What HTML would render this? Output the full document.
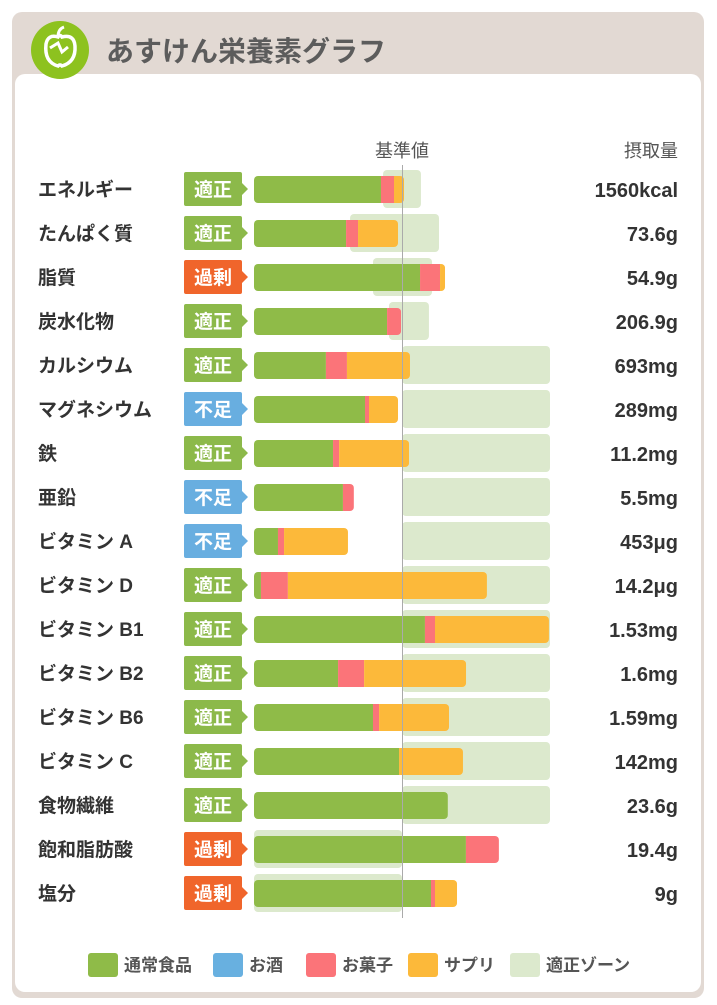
<!DOCTYPE html>
<html><head><meta charset="utf-8">
<style>
body{margin:0;width:717px;height:1000px;background:#fff;overflow:hidden;font-family:"Liberation Sans","Noto Sans CJK JP",sans-serif;}
svg text{font-family:"Liberation Sans","Noto Sans CJK JP",sans-serif;}
</style></head>
<body>
<svg id="chart" width="717" height="1000" viewBox="0 0 717 1000">
  <rect x="12" y="12" width="692" height="986" rx="10" fill="#e2d9d3"/>
  <rect x="15" y="74" width="686" height="918" rx="10" fill="#ffffff"/>
  <g>
    <circle cx="60" cy="50" r="29" fill="#8dc21f"/>
    <path d="M46 44 Q48 34 58 37 Q60 34 62 37 Q74 34 75 46 Q76 62 62 66 Q60 64 58 66 Q44 62 46 44 Z" fill="none" stroke="#fff" stroke-width="3.5"/>
    <path d="M58 37 Q58 29 64 27" fill="none" stroke="#fff" stroke-width="3"/>
    <path d="M50 48 L58 43 L62 52 L68 47" fill="none" stroke="#fff" stroke-width="3"/>
  </g>
  <text x="106" y="61" font-size="28" font-weight="bold" fill="#5c5c5c">あすけん栄養素グラフ</text>
  <text x="402" y="157" font-size="18" fill="#555" text-anchor="middle">基準値</text>
  <text x="678" y="157" font-size="18" fill="#555" text-anchor="end">摂取量</text>
  <g id="rows"></g>
  <g id="legend"></g>
</svg>
<script>
const names = ["エネルギー","たんぱく質","脂質","炭水化物","カルシウム","マグネシウム","鉄","亜鉛","ビタミン A","ビタミン D","ビタミン B1","ビタミン B2","ビタミン B6","ビタミン C","食物繊維","飽和脂肪酸","塩分"];
const status = ["適正","適正","過剰","適正","適正","不足","適正","不足","不足","適正","適正","適正","適正","適正","適正","過剰","過剰"];
const intake = ["1560kcal","73.6g","54.9g","206.9g","693mg","289mg","11.2mg","5.5mg","453μg","14.2μg","1.53mg","1.6mg","1.59mg","142mg","23.6g","19.4g","9g"];
// values as % of standard
const food   = [85.8,62.2,112.2,89.9,48.6,75,53.4,60.1,16.2,4.7,115.5,56.8,80.4,98,131,143.2,119.6];
const alcohol= [0,0,0,0,0,0,0,0,0,0,0,0,0,0,0,0,0];
const snack  = [8.8,8.1,13.5,9.5,14.2,2.7,4.1,7.4,4.1,18.2,6.8,17.6,4.1,0,0,22.3,2.7];
const supp   = [6.8,27,3.4,0,42.6,19.6,47.3,0,43.2,134.5,77,68.9,47.3,43.2,0,0,14.9];
const zoneLo = [87.2,64.9,80.4,91.2,100,100,100,100,100,100,100,100,100,100,100,0,0];
const zoneHi = [112.8,125,120.3,118.2,200,200,200,200,200,200,200,200,200,200,200,100,100];
const legendLabels = ["通常食品","お酒","お菓子","サプリ","適正ゾーン"];

const NS="http://www.w3.org/2000/svg";
const X0=254, PX=1.48;
const xs = v => X0 + v*PX;
const rowY = i => 189 + i*44;
const colors={food:"#8fbb48",alcohol:"#68b0e0",snack:"#fb7479",supp:"#fcb93a",zone:"#dce9cd"};
const badgeColor={"適正":"#8cb94a","過剰":"#f0652b","不足":"#68aee0"};
const rows=document.getElementById('rows');
function mk(tag,attrs,parent){const e=document.createElementNS(NS,tag);for(const k in attrs)e.setAttribute(k,attrs[k]);(parent||rows).appendChild(e);return e;}

for(let i=0;i<names.length;i++){
  const y=rowY(i);
  const g=mk('g',{});
  
  
  const t=mk('text',{x:38,y:y+7,'font-size':19,'font-weight':'bold',fill:'#333'},g);t.textContent=names[i];
  
  
  const z=mk('rect',{x:xs(zoneLo[i]),y:y-19,width:(zoneHi[i]-zoneLo[i])*PX,height:38,rx:4,fill:colors.zone},g);
  
  
  const bc=badgeColor[status[i]];
  const b=mk('path',{d:`M186 ${y-17} H240 Q242 ${y-17} 242 ${y-15} V${y-6} L248 ${y} L242 ${y+6} V${y+15} Q242 ${y+17} 240 ${y+17} H186 Q184 ${y+17} 184 ${y+15} V${y-15} Q184 ${y-17} 186 ${y-17} Z`,fill:bc},g);
  
  
  const bt=mk('text',{x:213,y:y+7,'font-size':19,'font-weight':'bold',fill:'#fff','text-anchor':'middle'},g);bt.textContent=status[i];
  
  
  const segs=[[food[i],colors.food,'bar-food'],[alcohol[i],colors.alcohol,'bar-alcohol'],[snack[i],colors.snack,'bar-snack'],[supp[i],colors.supp,'bar-supplement']];
  const total=food[i]+alcohol[i]+snack[i]+supp[i];
  const clip=mk('clipPath',{id:'c'+i},g);
  mk('rect',{x:X0,y:y-13,width:total*PX,height:27,rx:4},clip);
  const bg=mk('g',{'clip-path':`url(#c${i})`},g);
  let acc=0;
  for(const [v,c,n] of segs){
    if(v>0){const r=mk('rect',{x:xs(acc),y:y-13,width:v*PX,height:27,fill:c},bg);
      
      }
    acc+=v;
  }
  const vt=mk('text',{x:678,y:y+8,'font-size':20,'font-weight':'bold',fill:'#333','text-anchor':'end'},g);vt.textContent=intake[i];
  
  
}
const bl=mk('line',{x1:402.5,x2:402.5,y1:165,y2:918,stroke:'#aaa','stroke-width':1});



const lg=document.getElementById('legend');
const lcols=[colors.food,colors.alcohol,colors.snack,colors.supp,colors.zone];
const lx=[88,213,306,408,510];
for(let k=0;k<5;k++){
  const r=mk('rect',{x:lx[k],y:953,width:30,height:24,rx:3,fill:lcols[k]},lg);
  
  
  const t=mk('text',{x:lx[k]+36,y:971,'font-size':17,'font-weight':'bold',fill:'#555'},lg);t.textContent=legendLabels[k];
  
  
}
</script>
</body></html>
